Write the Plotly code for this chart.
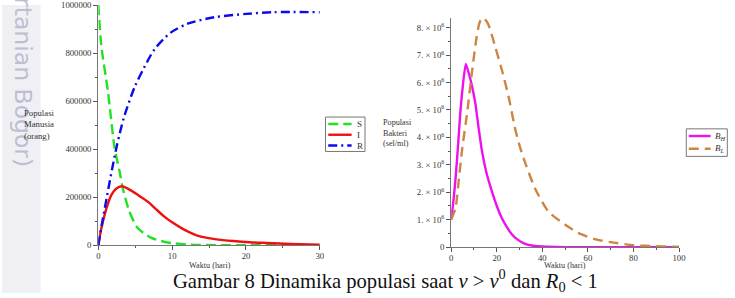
import plotly.graph_objects as go

W, H = 735, 298

# ---------------- Data ----------------
# Left: human population (S, I, R) vs time (days)
t_S = [0, 0.4, 1.3, 2.2, 2.9, 3.3, 4.2, 5.3, 7.1, 9.4, 12.5, 16, 20, 25, 30]
S = [1000000, 830000, 640000, 405000, 303000, 238000, 140000, 72000, 31000, 11000, 2000, 0, 0, 0, 0]

t_I = [0, 0.2, 0.6, 1.1, 1.75, 2.4, 3.2, 4.4, 5.5, 6.7, 7.8, 8.9, 10.0, 11.2, 12.3, 13.4, 14.6, 15.8, 18.3, 20.5,
       22.8, 26, 30]
I = [0, 38000, 95000, 153000, 208000, 235000, 245000, 228000, 206000, 181000, 150000, 120000, 95000, 72000, 54000,
     40000, 31000, 25000, 17000, 12000, 9000, 5000, 2000]

t_R = [0, 0.5, 1.0, 1.5, 2.0, 2.5, 3.0, 3.5, 4.9, 6.2, 7.6, 9.8, 12.1, 15.7, 20.1, 23.7, 30]
R = [0, 90000, 175000, 258000, 338000, 413000, 478000, 535000, 657000, 739000, 815000, 885000, 922000, 949000,
     963000, 970000, 970000]

# Right: bacteria population (B_H, B_L) vs time (days)
t_BH = [0, 1, 2, 3, 4, 5, 6.4, 8, 9.2, 10.6, 12.1, 13.5, 15.5, 17.9, 20, 22.2, 24.5, 26.6, 29, 32.4, 36, 40, 50, 70, 100]
BH = [1.0e6, 1.7e6, 2.6e6, 3.7e6, 4.9e6, 5.8e6, 6.68e6, 6.25e6, 5.84e6, 5.24e6, 4.3e6, 3.5e6, 2.7e6, 2.02e6, 1.5e6,
      1.06e6, 0.72e6, 0.47e6, 0.28e6, 0.12e6, 0.05e6, 0.02e6, 0.0, 0.0, 0.0]

t_BL = [0, 1.9, 3.4, 4.8, 7, 9.2, 11.1, 12.3, 13.5, 14.8, 16.4, 19.4, 22.3, 25.2, 28.1, 30, 32.4, 36.8, 42.6,
        49.9, 55.7, 63, 70, 80, 90, 100]
BL = [1.0e6, 1.42e6, 2.5e6, 3.57e6, 4.9e6, 6.44e6, 7.63e6, 8.15e6, 8.35e6, 8.3e6, 8.1e6, 7.28e6, 6.44e6, 5.48e6,
      4.3e6, 3.7e6, 3.09e6, 2.14e6, 1.3e6, 0.82e6, 0.52e6, 0.29e6, 0.18e6, 0.07e6, 0.03e6, 0.01e6]

left_xticks = [0, 10, 20, 30]
left_yticks = [0, 200000, 400000, 600000, 800000, 1000000]
right_xticks = [0, 20, 40, 60, 80, 100]
right_yticks = [0, 1e6, 2e6, 3e6, 4e6, 5e6, 6e6, 7e6, 8e6]
right_ytext = ["0"] + ["%d. &#215; 10<sup>6</sup>" % k for k in range(1, 9)]

C_S, C_I, C_R = "#22e022", "#ee1111", "#0a0aee"
C_BH, C_BL = "#ee10ee", "#cd8540"
D_S, D_R, D_BL = "10px,5px", "9px,4px,2px,4px", "10px,6px"
LW = 2.4

# reference-pixel -> paper fraction (the page is captured slightly reduced)
RW, RH = 731.0, 293.0


def px(x):
    return x / RW


def py(y):
    return 1 - y / RH


fig = go.Figure()
fig.add_trace(go.Scatter(x=t_S, y=S, mode="lines", line=dict(color=C_S, width=LW, dash=D_S, shape="spline", smoothing=0.6),
                         xaxis="x", yaxis="y", showlegend=False))
fig.add_trace(go.Scatter(x=t_I, y=I, mode="lines", line=dict(color=C_I, width=LW, shape="spline", smoothing=0.8),
                         xaxis="x", yaxis="y", showlegend=False))
fig.add_trace(go.Scatter(x=t_R, y=R, mode="lines", line=dict(color=C_R, width=LW, dash=D_R, shape="spline", smoothing=0.8),
                         xaxis="x", yaxis="y", showlegend=False))
fig.add_trace(go.Scatter(x=t_BH, y=BH, mode="lines", line=dict(color=C_BH, width=LW, shape="spline", smoothing=0.5),
                         xaxis="x2", yaxis="y2", showlegend=False))
fig.add_trace(go.Scatter(x=t_BL, y=BL, mode="lines", line=dict(color=C_BL, width=LW, dash=D_BL, shape="spline", smoothing=0.6),
                         xaxis="x2", yaxis="y2", showlegend=False))

tickfont = dict(family="Liberation Serif", size=8.7, color="#333333")
axcommon = dict(showline=True, linecolor="#777777", linewidth=1.3, showgrid=False, zeroline=False,
                ticks="outside", ticklen=4, tickcolor="#555555", tickwidth=1, tickfont=tickfont, fixedrange=True,
                ticklabeloverflow="allow")

fig.update_layout(
    width=W, height=H, margin=dict(l=0, r=0, t=0, b=0),
    paper_bgcolor="white", plot_bgcolor="rgba(0,0,0,0)",
    xaxis=dict(domain=[px(97), px(320)], range=[0, 30], tickvals=left_xticks, anchor="y", ticklabelstandoff=-2,
               minor=dict(ticks="outside", dtick=5, ticklen=2, tickcolor="#555555"), **axcommon),
    yaxis=dict(domain=[py(244.3), 1.0], range=[0, 1000000], tickvals=left_yticks,
               ticktext=[str(v) for v in left_yticks], anchor="x",
               minor=dict(ticks="outside", dtick=100000, ticklen=2, tickcolor="#555555"), **axcommon),
    xaxis2=dict(domain=[px(452.3), px(681.7)], range=[0, 100], tickvals=right_xticks, anchor="y2", ticklabelstandoff=-2,
                minor=dict(ticks="outside", dtick=10, ticklen=2, tickcolor="#555555"), **axcommon),
    yaxis2=dict(domain=[py(246.3), py(13.3)], range=[0, 8.35e6], tickvals=right_yticks, ticktext=right_ytext,
                anchor="x2", minor=dict(ticks="outside", dtick=5e5, ticklen=2, tickcolor="#555555"), **axcommon),
)

shapes = []
annos = []

# watermark strip on the left
shapes.append(dict(type="rect", xref="paper", yref="paper", x0=0, x1=px(39), y0=0, y1=1,
                   fillcolor="#f0f0f4", line=dict(width=0), layer="below"))
annos.append(dict(text="Pertanian Bogor)", xref="paper", yref="paper", x=px(21), y=py(167),
                  xanchor="center", yanchor="bottom", textangle=90, showarrow=False,
                  font=dict(family="DejaVu Sans", size=23.5, color="#bcbfd2")))

sm = dict(family="Liberation Serif", size=8.7, color="#333333")
annos.append(dict(text="Populasi<br>Manusia<br>(orang)", xref="paper", yref="paper", x=px(20), y=py(122),
                  xanchor="left", yanchor="middle", align="left", showarrow=False, font=sm))
annos.append(dict(text="Populasi<br>Bakteri<br>(sel/ml)", xref="paper", yref="paper", x=px(381.5), y=py(130.5),
                  xanchor="left", yanchor="middle", align="left", showarrow=False,
                  font=dict(family="Liberation Serif", size=8.2, color="#333333")))
annos.append(dict(text="Waktu (hari)", xref="paper", yref="paper", x=px(209), y=py(265), xanchor="center",
                  yanchor="middle", showarrow=False, font=dict(family="Liberation Serif", size=8.2, color="#333333")))
annos.append(dict(text="Waktu (hari)", xref="paper", yref="paper", x=px(567), y=py(265), xanchor="center",
                  yanchor="middle", showarrow=False, font=dict(family="Liberation Serif", size=8.2, color="#333333")))

annos.append(dict(text="Gambar 8 Dinamika populasi saat <i>v</i> &gt; <i>v</i><sup>0</sup> dan <i>R</i><sub>0</sub> &lt; 1",
                  xref="paper", yref="paper", x=px(386.5), y=py(280), xanchor="center", yanchor="middle",
                  showarrow=False, font=dict(family="Liberation Serif", size=20.6, color="#111111")))

# left legend
shapes.append(dict(type="rect", xref="paper", yref="paper", x0=px(325.7), x1=px(365.5), y0=py(149), y1=py(114),
                   line=dict(color="#777777", width=1), fillcolor="white"))
for yy, col, dash, lab in [(121, C_S, D_S, "S"), (132, C_I, "solid", "I"), (143, C_R, D_R, "R")]:
    shapes.append(dict(type="line", xref="paper", yref="paper", x0=px(328.5), x1=px(352), y0=py(yy), y1=py(yy),
                       line=dict(color=col, width=LW, dash=dash)))
    annos.append(dict(text=lab, xref="paper", yref="paper", x=px(355.5), y=py(yy), xanchor="left", yanchor="middle",
                      showarrow=False, font=dict(family="Liberation Serif", size=9, color="#333333")))

# right legend
shapes.append(dict(type="rect", xref="paper", yref="paper", x0=px(689), x1=px(730.3), y0=py(154), y1=py(126),
                   line=dict(color="#777777", width=1), fillcolor="white"))
for yy, col, dash, lab in [(133.3, C_BH, "solid", "<i>B</i><sub><i>H</i></sub>"),
                           (146.3, C_BL, D_BL, "<i>B</i><sub><i>L</i></sub>")]:
    shapes.append(dict(type="line", xref="paper", yref="paper", x0=px(691.5), x1=px(713.5), y0=py(yy), y1=py(yy),
                       line=dict(color=col, width=LW, dash=dash)))
    annos.append(dict(text=lab, xref="paper", yref="paper", x=px(715.5), y=py(yy), xanchor="left", yanchor="middle",
                      showarrow=False, font=dict(family="Liberation Serif", size=9, color="#333333")))

fig.update_layout(shapes=shapes, annotations=annos)
fig.write_html("out.html")
